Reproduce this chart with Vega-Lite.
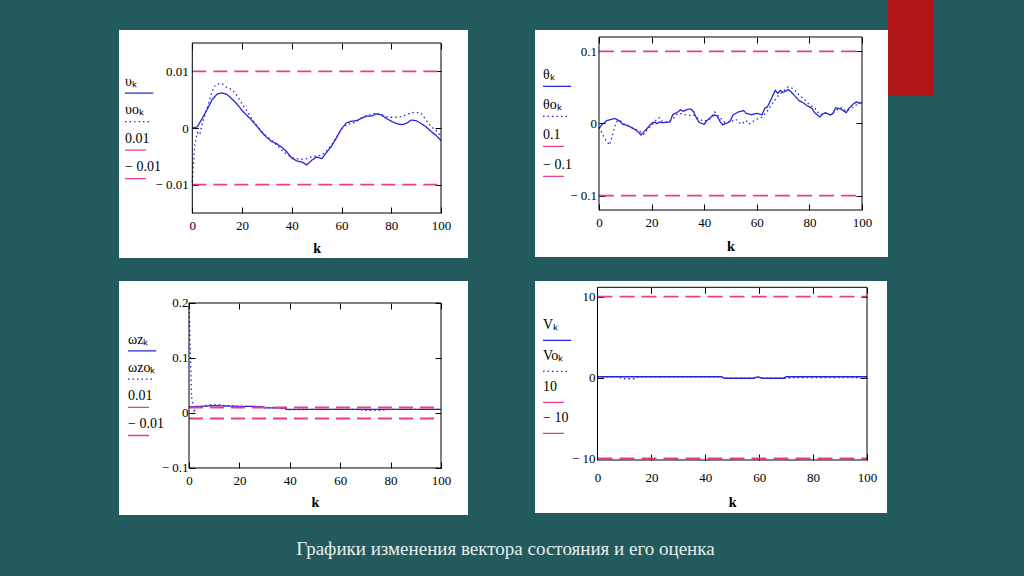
{
  "$schema": "https://vega.github.io/schema/vega-lite/v6.json",
  "background": "#235a5d",
  "padding": {"left": 119, "top": 0, "right": 90, "bottom": 18},
  "title": {"text": "Графики изменения вектора состояния и его оценка", "orient": "bottom", "anchor": "middle", "offset": 40, "baseline": "alphabetic", "dx": -21, "font": "Liberation Serif", "fontSize": 19, "fontWeight": "normal", "color": "#e6eeee"},
  "spacing": 67,
  "resolve": {"scale": {"color": "independent", "strokeDash": "independent", "x": "independent", "y": "independent"}, "legend": {"color": "independent", "strokeDash": "independent"}},
  "hconcat": [
    {
      "spacing": 23,
      "resolve": {"scale": {"color": "independent", "strokeDash": "independent", "x": "independent", "y": "independent"}, "legend": {"color": "independent", "strokeDash": "independent"}},
      "vconcat": [
        {"width": 1, "height": 7, "data": {"values": []}, "mark": "rect"},
        {
          "width": 349, "height": 228,
          "view": {"fill": "white", "stroke": null},
          "resolve": {"axis": {"x": "independent", "y": "independent"}},
          "layer": [
            {
              "data": {"values": [
                {"k":0,"v":0,"s":"υₖ"},{"k":2,"v":0.0002,"s":"υₖ"},{"k":4,"v":0.0017,"s":"υₖ"},{"k":6,"v":0.0033,"s":"υₖ"},{"k":8,"v":0.005,"s":"υₖ"},{"k":10,"v":0.006,"s":"υₖ"},{"k":12,"v":0.0062,"s":"υₖ"},{"k":14,"v":0.0059,"s":"υₖ"},{"k":16,"v":0.0051,"s":"υₖ"},{"k":18,"v":0.0042,"s":"υₖ"},{"k":20,"v":0.0031,"s":"υₖ"},{"k":22,"v":0.0022,"s":"υₖ"},{"k":24,"v":0.0013,"s":"υₖ"},{"k":26,"v":0.0003,"s":"υₖ"},{"k":28,"v":-0.0008,"s":"υₖ"},{"k":30,"v":-0.0017,"s":"υₖ"},{"k":32,"v":-0.0024,"s":"υₖ"},{"k":34,"v":-0.0028,"s":"υₖ"},{"k":36,"v":-0.0034,"s":"υₖ"},{"k":38,"v":-0.0042,"s":"υₖ"},{"k":40,"v":-0.0053,"s":"υₖ"},{"k":42,"v":-0.0058,"s":"υₖ"},{"k":44,"v":-0.006,"s":"υₖ"},{"k":46,"v":-0.0065,"s":"υₖ"},{"k":48,"v":-0.0057,"s":"υₖ"},{"k":50,"v":-0.0051,"s":"υₖ"},{"k":52,"v":-0.0054,"s":"υₖ"},{"k":54,"v":-0.0043,"s":"υₖ"},{"k":56,"v":-0.0032,"s":"υₖ"},{"k":58,"v":-0.0017,"s":"υₖ"},{"k":60,"v":-0.0001,"s":"υₖ"},{"k":62,"v":0.0009,"s":"υₖ"},{"k":64,"v":0.0012,"s":"υₖ"},{"k":66,"v":0.0013,"s":"υₖ"},{"k":68,"v":0.0017,"s":"υₖ"},{"k":70,"v":0.0021,"s":"υₖ"},{"k":72,"v":0.0021,"s":"υₖ"},{"k":74,"v":0.0025,"s":"υₖ"},{"k":76,"v":0.0023,"s":"υₖ"},{"k":78,"v":0.0017,"s":"υₖ"},{"k":80,"v":0.0012,"s":"υₖ"},{"k":82,"v":0.0008,"s":"υₖ"},{"k":84,"v":0.0006,"s":"υₖ"},{"k":86,"v":0.0008,"s":"υₖ"},{"k":88,"v":0.0014,"s":"υₖ"},{"k":90,"v":0.0013,"s":"υₖ"},{"k":92,"v":0.0008,"s":"υₖ"},{"k":94,"v":0.0002,"s":"υₖ"},{"k":96,"v":-0.0006,"s":"υₖ"},{"k":98,"v":-0.0013,"s":"υₖ"},{"k":100,"v":-0.0022,"s":"υₖ"},
                {"k":0,"v":-0.0095,"s":"υoₖ"},{"k":1,"v":-0.003,"s":"υoₖ"},{"k":2,"v":-0.0008,"s":"υoₖ"},{"k":3,"v":-0.0012,"s":"υoₖ"},{"k":4,"v":0.0008,"s":"υoₖ"},{"k":6,"v":0.0035,"s":"υoₖ"},{"k":8,"v":0.0065,"s":"υoₖ"},{"k":9,"v":0.0074,"s":"υoₖ"},{"k":10,"v":0.0078,"s":"υoₖ"},{"k":12,"v":0.0078,"s":"υoₖ"},{"k":14,"v":0.0071,"s":"υoₖ"},{"k":16,"v":0.0068,"s":"υoₖ"},{"k":18,"v":0.0057,"s":"υoₖ"},{"k":20,"v":0.0042,"s":"υoₖ"},{"k":22,"v":0.003,"s":"υoₖ"},{"k":24,"v":0.0016,"s":"υoₖ"},{"k":26,"v":0.0004,"s":"υoₖ"},{"k":28,"v":-0.0006,"s":"υoₖ"},{"k":30,"v":-0.0015,"s":"υoₖ"},{"k":32,"v":-0.0022,"s":"υoₖ"},{"k":34,"v":-0.003,"s":"υoₖ"},{"k":36,"v":-0.0039,"s":"υoₖ"},{"k":38,"v":-0.0047,"s":"υoₖ"},{"k":40,"v":-0.0052,"s":"υoₖ"},{"k":42,"v":-0.0054,"s":"υoₖ"},{"k":44,"v":-0.0055,"s":"υoₖ"},{"k":46,"v":-0.0054,"s":"υoₖ"},{"k":48,"v":-0.0051,"s":"υoₖ"},{"k":50,"v":-0.0049,"s":"υoₖ"},{"k":52,"v":-0.0048,"s":"υoₖ"},{"k":54,"v":-0.004,"s":"υoₖ"},{"k":56,"v":-0.003,"s":"υoₖ"},{"k":58,"v":-0.0016,"s":"υoₖ"},{"k":60,"v":-0.0002,"s":"υoₖ"},{"k":62,"v":0.0006,"s":"υoₖ"},{"k":64,"v":0.0008,"s":"υoₖ"},{"k":66,"v":0.0011,"s":"υoₖ"},{"k":68,"v":0.0018,"s":"υoₖ"},{"k":70,"v":0.0022,"s":"υoₖ"},{"k":72,"v":0.0024,"s":"υoₖ"},{"k":74,"v":0.0026,"s":"υoₖ"},{"k":76,"v":0.0024,"s":"υoₖ"},{"k":78,"v":0.002,"s":"υoₖ"},{"k":80,"v":0.0019,"s":"υoₖ"},{"k":82,"v":0.0019,"s":"υoₖ"},{"k":84,"v":0.002,"s":"υoₖ"},{"k":86,"v":0.0023,"s":"υoₖ"},{"k":88,"v":0.0027,"s":"υoₖ"},{"k":90,"v":0.0028,"s":"υoₖ"},{"k":92,"v":0.0026,"s":"υoₖ"},{"k":94,"v":0.0014,"s":"υoₖ"},{"k":96,"v":0.0002,"s":"υoₖ"},{"k":98,"v":-0.0004,"s":"υoₖ"},{"k":100,"v":-0.0015,"s":"υoₖ"}
              ]},
              "mark": {"type": "line", "strokeWidth": 1.3},
              "encoding": {
                "x": {"field": "k", "type": "quantitative", "scale": {"domain": [-29.47, 110.85], "nice": false, "zero": false}, "axis": {"orient": "top", "offset": -13, "values": [0,20,40,60,80,100], "labels": false, "tickSize": -6, "title": null}},
                "y": {"field": "v", "type": "quantitative", "scale": {"domain": [-0.022941, 0.017294], "nice": false, "zero": false}, "axis": {"orient": "right", "offset": -27, "values": [-0.01,0,0.01], "labels": false, "tickSize": -6, "title": null}},
                "color": {"field": "s", "type": "nominal", "scale": {"domain": ["υₖ","υoₖ","0.01","− 0.01"], "range": ["#2626d8","#2626d8","#ea3c8c","#ea3c8c"]}, "legend": {"orient": "none", "legendX": 5, "legendY": 38.7, "rowPadding": 1.5, "symbolType": "M-1,0.95H1", "encode": {"symbols": {"update": {"strokeDash": {"signal": "datum.value == 'υoₖ' ? [1.5, 3] : [1, 0]"}, "shape": {"signal": "datum.value == 'υₖ' ? 'M-1,0.95H1.35' : datum.value == 'υoₖ' ? 'M-1,0.95H1' : 'M-1,0.95H0.75'"}}}}}},
                "strokeDash": {"field": "s", "type": "nominal", "scale": {"domain": ["υₖ","υoₖ"], "range": [[1,0],[1.5,3]]}, "legend": null}
              }
            },
            {
              "data": {"values": [
                {"k":0,"v":0.01,"s":"0.01"},{"k":100,"v":0.01,"s":"0.01"},
                {"k":0,"v":-0.01,"s":"− 0.01"},{"k":100,"v":-0.01,"s":"− 0.01"}
              ]},
              "mark": {"type": "line", "strokeWidth": 1.8, "strokeDash": [14, 7]},
              "encoding": {
                "x": {"field": "k", "type": "quantitative", "axis": null},
                "y": {"field": "v", "type": "quantitative", "axis": null},
                "color": {"field": "s", "type": "nominal", "legend": null}
              }
            },
            {
              "data": {"values": [{}]},
              "mark": {"type": "rect", "fill": "transparent", "stroke": "black", "strokeWidth": 1},
              "encoding": {
                "x": {"datum": 0, "type": "quantitative", "axis": {"orient": "bottom", "offset": -45, "values": [0,20,40,60,80,100], "tickSize": -6, "labelPadding": 12, "title": "k", "titleX": 197.65, "titleY": 39, "titleBaseline": "alphabetic"}},
                "x2": {"datum": 100},
                "y": {"datum": -0.015, "type": "quantitative", "axis": {"orient": "left", "offset": -73.3, "values": [-0.01,0,0.01], "tickSize": -6, "labelPadding": 10, "title": null, "labelExpr": "datum.value < 0 ? '− ' + format(-datum.value, '~g') : format(datum.value, '~g')"}},
                "y2": {"datum": 0.015}
              }
            }
          ]
        },
        {
          "width": 349, "height": 234,
          "view": {"fill": "white", "stroke": null},
          "resolve": {"axis": {"x": "independent", "y": "independent"}},
          "layer": [
            {
              "data": {"values": [
                {"k":0,"v":0.0115,"s":"ωzₖ"},{"k":5,"v":0.012,"s":"ωzₖ"},{"k":8,"v":0.013,"s":"ωzₖ"},{"k":10,"v":0.0135,"s":"ωzₖ"},{"k":12,"v":0.013,"s":"ωzₖ"},{"k":16,"v":0.0125,"s":"ωzₖ"},{"k":20,"v":0.012,"s":"ωzₖ"},{"k":26,"v":0.0118,"s":"ωzₖ"},{"k":29,"v":0.0115,"s":"ωzₖ"},{"k":30,"v":0.0092,"s":"ωzₖ"},{"k":34,"v":0.0092,"s":"ωzₖ"},{"k":38,"v":0.009,"s":"ωzₖ"},{"k":39,"v":0.0065,"s":"ωzₖ"},{"k":50,"v":0.0065,"s":"ωzₖ"},{"k":60,"v":0.0065,"s":"ωzₖ"},{"k":70,"v":0.0065,"s":"ωzₖ"},{"k":80,"v":0.0065,"s":"ωzₖ"},{"k":90,"v":0.0065,"s":"ωzₖ"},{"k":100,"v":0.0065,"s":"ωzₖ"},
                {"k":0,"v":0.2,"s":"ωzoₖ"},{"k":1,"v":0.03,"s":"ωzoₖ"},{"k":2,"v":0.004,"s":"ωzoₖ"},{"k":3,"v":0.011,"s":"ωzoₖ"},{"k":6,"v":0.0125,"s":"ωzoₖ"},{"k":8,"v":0.015,"s":"ωzoₖ"},{"k":10,"v":0.0145,"s":"ωzoₖ"},{"k":12,"v":0.015,"s":"ωzoₖ"},{"k":14,"v":0.0135,"s":"ωzoₖ"},{"k":18,"v":0.013,"s":"ωzoₖ"},{"k":20,"v":0.012,"s":"ωzoₖ"},{"k":24,"v":0.012,"s":"ωzoₖ"},{"k":29,"v":0.0115,"s":"ωzoₖ"},{"k":30,"v":0.0095,"s":"ωzoₖ"},{"k":38,"v":0.009,"s":"ωzoₖ"},{"k":39,"v":0.004,"s":"ωzoₖ"},{"k":40,"v":0.0062,"s":"ωzoₖ"},{"k":50,"v":0.0065,"s":"ωzoₖ"},{"k":68,"v":0.0065,"s":"ωzoₖ"},{"k":69,"v":0.005,"s":"ωzoₖ"},{"k":77,"v":0.005,"s":"ωzoₖ"},{"k":78,"v":0.0065,"s":"ωzoₖ"},{"k":100,"v":0.0065,"s":"ωzoₖ"}
              ]},
              "mark": {"type": "line", "strokeWidth": 1.3},
              "encoding": {
                "x": {"field": "k", "type": "quantitative", "scale": {"domain": [-27.78, 110.71], "nice": false, "zero": false}, "axis": {"orient": "top", "offset": -22, "values": [0,20,40,60,80,100], "labels": false, "tickSize": -6, "title": null}},
                "y": {"field": "v", "type": "quantitative", "scale": {"domain": [-0.1855, 0.24], "nice": false, "zero": false}, "axis": {"orient": "right", "offset": -27, "values": [-0.1,0,0.1,0.2], "labels": false, "tickSize": -6, "title": null}},
                "color": {"field": "s", "type": "nominal", "scale": {"domain": ["ωzₖ","ωzoₖ","0.01","− 0.01"], "range": ["#2626d8","#2626d8","#ea3c8c","#ea3c8c"]}, "legend": {"orient": "none", "legendX": 8, "legendY": 45.5, "rowPadding": 1.2, "symbolType": "M-1,0.95H1", "encode": {"symbols": {"update": {"strokeDash": {"signal": "datum.value == 'ωzoₖ' ? [1.5, 3] : [1, 0]"}, "shape": {"signal": "datum.value == 'ωzₖ' ? 'M-1,0.95H1.35' : datum.value == 'ωzoₖ' ? 'M-1,0.95H1.2' : 'M-1,0.95H0.75'"}}}}}},
                "strokeDash": {"field": "s", "type": "nominal", "scale": {"domain": ["ωzₖ","ωzoₖ"], "range": [[1,0],[1.5,3]]}, "legend": null}
              }
            },
            {
              "data": {"values": [
                {"k":0,"v":0.01,"s":"0.01"},{"k":100,"v":0.01,"s":"0.01"},
                {"k":0,"v":-0.01,"s":"− 0.01"},{"k":100,"v":-0.01,"s":"− 0.01"}
              ]},
              "mark": {"type": "line", "strokeWidth": 1.8, "strokeDash": [14, 7]},
              "encoding": {
                "x": {"field": "k", "type": "quantitative", "axis": null},
                "y": {"field": "v", "type": "quantitative", "axis": null},
                "color": {"field": "s", "type": "nominal", "legend": null}
              }
            },
            {
              "data": {"values": [{}]},
              "mark": {"type": "rect", "fill": "transparent", "stroke": "black", "strokeWidth": 1},
              "encoding": {
                "x": {"datum": 0, "type": "quantitative", "axis": {"orient": "bottom", "offset": -47, "values": [0,20,40,60,80,100], "tickSize": -6, "labelPadding": 12.5, "title": "k", "titleX": 196, "titleY": 38, "titleBaseline": "alphabetic"}},
                "x2": {"datum": 100},
                "y": {"datum": -0.1, "type": "quantitative", "axis": {"orient": "left", "offset": -70, "values": [-0.1,0,0.1,0.2], "tickSize": -6, "labelPadding": 7, "title": null, "labelExpr": "datum.value < 0 ? '− ' + format(-datum.value, '~g') : format(datum.value, '~g')"}},
                "y2": {"datum": 0.2}
              }
            }
          ]
        }
      ]
    },
    {
      "spacing": 0,
      "resolve": {"scale": {"color": "independent", "strokeDash": "independent", "x": "independent", "y": "independent"}, "legend": {"color": "independent", "strokeDash": "independent"}},
      "hconcat": [
        {
          "spacing": 24,
          "resolve": {"scale": {"color": "independent", "strokeDash": "independent", "x": "independent", "y": "independent"}, "legend": {"color": "independent", "strokeDash": "independent"}},
          "vconcat": [
            {"width": 1, "height": 6, "data": {"values": []}, "mark": "rect"},
            {
              "width": 353, "height": 227,
              "view": {"fill": "white", "stroke": null},
              "resolve": {"axis": {"x": "independent", "y": "independent"}},
              "layer": [
                {
                  "data": {"values": [
                    {"k":0,"v":-0.007,"s":"θₖ"},{"k":1,"v":-0.002,"s":"θₖ"},{"k":3,"v":0.004,"s":"θₖ"},{"k":5,"v":0.006,"s":"θₖ"},{"k":6,"v":0.007,"s":"θₖ"},{"k":8,"v":0.003,"s":"θₖ"},{"k":9,"v":-0.001,"s":"θₖ"},{"k":11,"v":-0.003,"s":"θₖ"},{"k":13,"v":-0.007,"s":"θₖ"},{"k":14,"v":-0.009,"s":"θₖ"},{"k":15,"v":-0.012,"s":"θₖ"},{"k":16,"v":-0.016,"s":"θₖ"},{"k":17,"v":-0.012,"s":"θₖ"},{"k":18,"v":-0.008,"s":"θₖ"},{"k":20,"v":0.0,"s":"θₖ"},{"k":21,"v":0.002,"s":"θₖ"},{"k":22,"v":0.0,"s":"θₖ"},{"k":23,"v":0.002,"s":"θₖ"},{"k":24,"v":0.001,"s":"θₖ"},{"k":26,"v":0.002,"s":"θₖ"},{"k":27,"v":0.002,"s":"θₖ"},{"k":28,"v":0.012,"s":"θₖ"},{"k":30,"v":0.016,"s":"θₖ"},{"k":31,"v":0.019,"s":"θₖ"},{"k":32,"v":0.017,"s":"θₖ"},{"k":34,"v":0.02,"s":"θₖ"},{"k":35,"v":0.02,"s":"θₖ"},{"k":36,"v":0.016,"s":"θₖ"},{"k":37,"v":0.008,"s":"θₖ"},{"k":38,"v":0.002,"s":"θₖ"},{"k":39,"v":0.0,"s":"θₖ"},{"k":40,"v":-0.001,"s":"θₖ"},{"k":41,"v":0.004,"s":"θₖ"},{"k":43,"v":0.01,"s":"θₖ"},{"k":44,"v":0.012,"s":"θₖ"},{"k":45,"v":0.01,"s":"θₖ"},{"k":46,"v":0.003,"s":"θₖ"},{"k":47,"v":-0.002,"s":"θₖ"},{"k":48,"v":0.0,"s":"θₖ"},{"k":49,"v":0.001,"s":"θₖ"},{"k":50,"v":0.004,"s":"θₖ"},{"k":51,"v":0.012,"s":"θₖ"},{"k":53,"v":0.016,"s":"θₖ"},{"k":55,"v":0.018,"s":"θₖ"},{"k":56,"v":0.014,"s":"θₖ"},{"k":58,"v":0.012,"s":"θₖ"},{"k":60,"v":0.014,"s":"θₖ"},{"k":62,"v":0.012,"s":"θₖ"},{"k":63,"v":0.021,"s":"θₖ"},{"k":64,"v":0.023,"s":"θₖ"},{"k":65,"v":0.03,"s":"θₖ"},{"k":67,"v":0.046,"s":"θₖ"},{"k":68,"v":0.042,"s":"θₖ"},{"k":69,"v":0.046,"s":"θₖ"},{"k":70,"v":0.043,"s":"θₖ"},{"k":72,"v":0.047,"s":"θₖ"},{"k":73,"v":0.044,"s":"θₖ"},{"k":74,"v":0.04,"s":"θₖ"},{"k":76,"v":0.032,"s":"θₖ"},{"k":78,"v":0.028,"s":"θₖ"},{"k":79,"v":0.025,"s":"θₖ"},{"k":81,"v":0.021,"s":"θₖ"},{"k":82,"v":0.015,"s":"θₖ"},{"k":84,"v":0.009,"s":"θₖ"},{"k":85,"v":0.013,"s":"θₖ"},{"k":86,"v":0.015,"s":"θₖ"},{"k":88,"v":0.012,"s":"θₖ"},{"k":89,"v":0.014,"s":"θₖ"},{"k":90,"v":0.022,"s":"θₖ"},{"k":92,"v":0.02,"s":"θₖ"},{"k":94,"v":0.015,"s":"θₖ"},{"k":95,"v":0.021,"s":"θₖ"},{"k":97,"v":0.028,"s":"θₖ"},{"k":98,"v":0.03,"s":"θₖ"},{"k":99,"v":0.028,"s":"θₖ"},{"k":100,"v":0.029,"s":"θₖ"},
                    {"k":0,"v":-0.005,"s":"θoₖ"},{"k":1,"v":-0.012,"s":"θoₖ"},{"k":2,"v":-0.02,"s":"θoₖ"},{"k":3,"v":-0.025,"s":"θoₖ"},{"k":4,"v":-0.03,"s":"θoₖ"},{"k":5,"v":-0.018,"s":"θoₖ"},{"k":6,"v":-0.004,"s":"θoₖ"},{"k":7,"v":0.004,"s":"θoₖ"},{"k":8,"v":0.004,"s":"θoₖ"},{"k":10,"v":-0.002,"s":"θoₖ"},{"k":12,"v":-0.005,"s":"θoₖ"},{"k":14,"v":-0.008,"s":"θoₖ"},{"k":16,"v":-0.012,"s":"θoₖ"},{"k":17,"v":-0.015,"s":"θoₖ"},{"k":18,"v":-0.01,"s":"θoₖ"},{"k":20,"v":-0.003,"s":"θoₖ"},{"k":22,"v":0.006,"s":"θoₖ"},{"k":23,"v":0.008,"s":"θoₖ"},{"k":24,"v":0.003,"s":"θoₖ"},{"k":26,"v":0.002,"s":"θoₖ"},{"k":28,"v":0.006,"s":"θoₖ"},{"k":30,"v":0.014,"s":"θoₖ"},{"k":32,"v":0.013,"s":"θoₖ"},{"k":34,"v":0.011,"s":"θoₖ"},{"k":36,"v":0.012,"s":"θoₖ"},{"k":38,"v":0.006,"s":"θoₖ"},{"k":40,"v":0.003,"s":"θoₖ"},{"k":42,"v":0.006,"s":"θoₖ"},{"k":44,"v":0.016,"s":"θoₖ"},{"k":46,"v":0.008,"s":"θoₖ"},{"k":48,"v":0.001,"s":"θoₖ"},{"k":50,"v":0.002,"s":"θoₖ"},{"k":52,"v":0.006,"s":"θoₖ"},{"k":54,"v":-0.001,"s":"θoₖ"},{"k":56,"v":0.004,"s":"θoₖ"},{"k":57,"v":-0.001,"s":"θoₖ"},{"k":58,"v":0.002,"s":"θoₖ"},{"k":60,"v":0.006,"s":"θoₖ"},{"k":62,"v":0.009,"s":"θoₖ"},{"k":64,"v":0.017,"s":"θoₖ"},{"k":66,"v":0.028,"s":"θoₖ"},{"k":68,"v":0.038,"s":"θoₖ"},{"k":70,"v":0.045,"s":"θoₖ"},{"k":72,"v":0.051,"s":"θoₖ"},{"k":74,"v":0.048,"s":"θoₖ"},{"k":76,"v":0.04,"s":"θoₖ"},{"k":78,"v":0.034,"s":"θoₖ"},{"k":80,"v":0.026,"s":"θoₖ"},{"k":82,"v":0.022,"s":"θoₖ"},{"k":84,"v":0.012,"s":"θoₖ"},{"k":86,"v":0.014,"s":"θoₖ"},{"k":88,"v":0.012,"s":"θoₖ"},{"k":90,"v":0.018,"s":"θoₖ"},{"k":92,"v":0.022,"s":"θoₖ"},{"k":94,"v":0.017,"s":"θoₖ"},{"k":96,"v":0.021,"s":"θoₖ"},{"k":98,"v":0.026,"s":"θoₖ"},{"k":100,"v":0.03,"s":"θoₖ"}
                  ]},
                  "mark": {"type": "line", "strokeWidth": 1.3},
                  "encoding": {
                    "x": {"field": "k", "type": "quantitative", "scale": {"domain": [-24.33, 109.89], "nice": false, "zero": false}, "axis": {"orient": "top", "offset": -7, "values": [0,20,40,60,80,100], "labels": false, "tickSize": -6, "title": null}},
                    "y": {"field": "v", "type": "quantitative", "scale": {"domain": [-0.1852, 0.1297], "nice": false, "zero": false}, "axis": {"orient": "right", "offset": -26, "values": [-0.1,0,0.1], "labels": false, "tickSize": -6, "title": null}},
                    "color": {"field": "s", "type": "nominal", "scale": {"domain": ["θₖ","θoₖ","0.1","− 0.1"], "range": ["#2626d8","#2626d8","#ea3c8c","#ea3c8c"]}, "legend": {"orient": "none", "legendX": 7, "legendY": 32, "rowPadding": 3, "symbolType": "M-1,0.95H1", "encode": {"symbols": {"update": {"strokeDash": {"signal": "datum.value == 'θoₖ' ? [1.5, 3] : [1, 0]"}, "shape": {"signal": "datum.value == 'θₖ' ? 'M-1,0.95H1.35' : datum.value == 'θoₖ' ? 'M-1,0.95H1.2' : 'M-1,0.95H0.75'"}}}}}},
                    "strokeDash": {"field": "s", "type": "nominal", "scale": {"domain": ["θₖ","θoₖ"], "range": [[1,0],[1.5,3]]}, "legend": null}
                  }
                },
                {
                  "data": {"values": [
                    {"k":0,"v":0.1,"s":"0.1"},{"k":100,"v":0.1,"s":"0.1"},
                    {"k":0,"v":-0.1,"s":"− 0.1"},{"k":100,"v":-0.1,"s":"− 0.1"}
                  ]},
                  "mark": {"type": "line", "strokeWidth": 1.8, "strokeDash": [15, 7]},
                  "encoding": {
                    "x": {"field": "k", "type": "quantitative", "axis": null},
                    "y": {"field": "v", "type": "quantitative", "axis": null},
                    "color": {"field": "s", "type": "nominal", "legend": null}
                  }
                },
                {
                  "data": {"values": [{}]},
                  "mark": {"type": "rect", "fill": "transparent", "stroke": "black", "strokeWidth": 1},
                  "encoding": {
                    "x": {"datum": 0, "type": "quantitative", "axis": {"orient": "bottom", "offset": -47, "values": [0,20,40,60,80,100], "tickSize": -6, "labelPadding": 12.7, "title": "k", "titleX": 195.5, "titleY": 40, "titleBaseline": "alphabetic"}},
                    "x2": {"datum": 100},
                    "y": {"datum": -0.12, "type": "quantitative", "axis": {"orient": "left", "offset": -64, "values": [-0.1,0,0.1], "tickSize": -6, "labelPadding": 8.5, "title": null, "labelExpr": "datum.value < 0 ? '− ' + format(-datum.value, '~g') : format(datum.value, '~g')"}},
                    "y2": {"datum": 0.12}
                  }
                }
              ]
            },
            {
              "width": 352, "height": 232,
              "view": {"fill": "white", "stroke": null},
              "resolve": {"axis": {"x": "independent", "y": "independent"}},
              "layer": [
                {
                  "data": {"values": [
                    {"k":0,"v":0.1,"s":"Vₖ"},{"k":46,"v":0.1,"s":"Vₖ"},{"k":47,"v":-0.1,"s":"Vₖ"},{"k":58,"v":-0.1,"s":"Vₖ"},{"k":59,"v":0.05,"s":"Vₖ"},{"k":60,"v":0.05,"s":"Vₖ"},{"k":61,"v":-0.1,"s":"Vₖ"},{"k":69,"v":-0.1,"s":"Vₖ"},{"k":70,"v":0.1,"s":"Vₖ"},{"k":100,"v":0.1,"s":"Vₖ"},
                    {"k":0,"v":0.1,"s":"Voₖ"},{"k":8,"v":0.1,"s":"Voₖ"},{"k":9,"v":-0.15,"s":"Voₖ"},{"k":14,"v":-0.15,"s":"Voₖ"},{"k":15,"v":0.1,"s":"Voₖ"},{"k":46,"v":0.1,"s":"Voₖ"},{"k":47,"v":-0.1,"s":"Voₖ"},{"k":58,"v":-0.1,"s":"Voₖ"},{"k":59,"v":0.05,"s":"Voₖ"},{"k":60,"v":0.05,"s":"Voₖ"},{"k":61,"v":-0.1,"s":"Voₖ"},{"k":70,"v":-0.1,"s":"Voₖ"},{"k":72,"v":0.0,"s":"Voₖ"},{"k":96,"v":0.0,"s":"Voₖ"},{"k":97,"v":-0.1,"s":"Voₖ"},{"k":100,"v":-0.1,"s":"Voₖ"}
                  ]},
                  "mark": {"type": "line", "strokeWidth": 1.4},
                  "encoding": {
                    "x": {"field": "k", "type": "quantitative", "scale": {"domain": [-23.19, 107.42], "nice": false, "zero": false}, "axis": {"orient": "top", "offset": -6.3, "values": [0,20,40,60,80,100], "labels": false, "tickSize": -6, "title": null}},
                    "y": {"field": "v", "type": "quantitative", "scale": {"domain": [-16.75, 11.93], "nice": false, "zero": false}, "axis": {"orient": "right", "offset": -20, "values": [-10,0,10], "labels": false, "tickSize": -6, "title": null}},
                    "color": {"field": "s", "type": "nominal", "scale": {"domain": ["Vₖ","Voₖ","10","− 10"], "range": ["#2626d8","#2626d8","#ea3c8c","#ea3c8c"]}, "legend": {"orient": "none", "legendX": 7, "legendY": 31, "rowPadding": 0, "symbolType": "M-1,1.28H1", "encode": {"symbols": {"update": {"strokeDash": {"signal": "datum.value == 'Voₖ' ? [1.5, 3] : [1, 0]"}, "shape": {"signal": "datum.value == 'Vₖ' ? 'M-1,1.28H1.35' : datum.value == 'Voₖ' ? 'M-1,1.28H1.2' : 'M-1,1.28H0.75'"}}}}}},
                    "strokeDash": {"field": "s", "type": "nominal", "scale": {"domain": ["Vₖ","Voₖ"], "range": [[1,0],[1.5,3]]}, "legend": null}
                  }
                },
                {
                  "data": {"values": [
                    {"k":0,"v":10,"s":"10"},{"k":100,"v":10,"s":"10"},
                    {"k":0,"v":-10,"s":"− 10"},{"k":100,"v":-10,"s":"− 10"}
                  ]},
                  "mark": {"type": "line", "strokeWidth": 1.9, "strokeDash": [15, 7]},
                  "encoding": {
                    "x": {"field": "k", "type": "quantitative", "axis": null},
                    "y": {"field": "v", "type": "quantitative", "axis": null},
                    "color": {"field": "s", "type": "nominal", "legend": null}
                  }
                },
                {
                  "data": {"values": [{}]},
                  "mark": {"type": "rect", "fill": "transparent", "stroke": "black", "strokeWidth": 1},
                  "encoding": {
                    "x": {"datum": 0, "type": "quantitative", "axis": {"orient": "bottom", "offset": -53, "values": [0,20,40,60,80,100], "tickSize": -6, "labelPadding": 17, "title": "k", "titleX": 197.25, "titleY": 46, "titleBaseline": "alphabetic"}},
                    "x2": {"datum": 100},
                    "y": {"datum": -10.2, "type": "quantitative", "axis": {"orient": "left", "offset": -62.5, "values": [-10,0,10], "tickSize": -6, "labelPadding": 8.5, "title": null, "labelExpr": "datum.value < 0 ? '− ' + format(-datum.value, '~g') : format(datum.value, '~g')"}},
                    "y2": {"datum": 11.15}
                  }
                }
              ]
            }
          ]
        },
        {"width": 46, "height": 96, "view": {"fill": "#b11616", "stroke": null}, "data": {"values": []}, "mark": "rect"}
      ]
    }
  ],
  "config": {
    "view": {"stroke": null},
    "axis": {"grid": false, "domain": false, "ticks": true, "tickColor": "#000", "tickWidth": 1, "labelFont": "Liberation Serif", "labelFontSize": 13, "labelColor": "#000", "titleFont": "Liberation Serif", "titleFontSize": 14, "titleFontWeight": "bold", "titleColor": "#000"},
    "legend": {"title": null, "symbolSize": 576, "symbolStrokeWidth": 1.3, "labelOffset": -25, "labelFont": "Liberation Serif", "labelFontSize": 14, "labelColor": "#000", "padding": 0, "symbolFillColor": "transparent"}
  }
}
